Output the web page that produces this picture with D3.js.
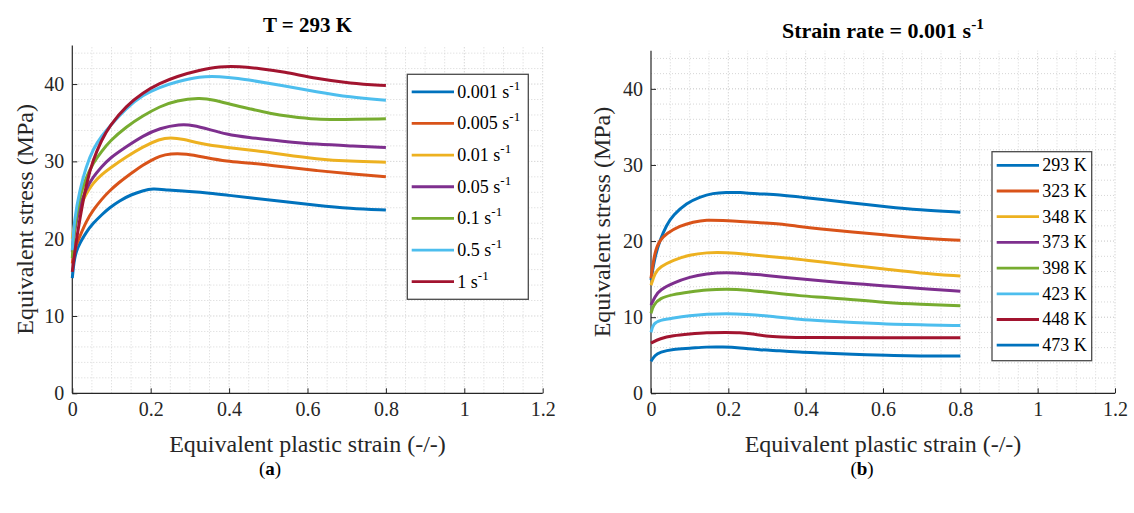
<!DOCTYPE html>
<html>
<head>
<meta charset="utf-8">
<script src="https://cdn.jsdelivr.net/npm/d3@7"></script>
<style>
  html, body { margin: 0; padding: 0; background: #fff; }
  svg { display: block; }
  svg text { font-family: 'Liberation Serif', 'Times New Roman', serif !important; }
</style>
</head>
<body>
<svg id="fig" width="1134" height="513"></svg>
<script>
// ---- data: equivalent plastic strain vs equivalent stress (MPa) ----
// Panel (a): T = 293 K, different strain rates
const rateLabels = ["0.001", "0.005", "0.01", "0.05", "0.1", "0.5", "1"];
const rate0001 = [[0,14.9],[0.004,17.0],[0.01,18.4],[0.02,19.5],[0.035,20.8],[0.053,22.0],[0.075,23.1],[0.095,24.0],[0.12,24.9],[0.15,25.7],[0.18,26.2],[0.205,26.5],[0.24,26.3],[0.3,26.1],[0.35,25.9],[0.4,25.6],[0.453,25.3],[0.538,24.8],[0.623,24.3],[0.708,23.9],[0.8,23.7]];
const rate0005 = [[0,16.8],[0.004,18.2],[0.01,19.2],[0.02,20.4],[0.035,22.2],[0.053,23.7],[0.075,25.1],[0.095,26.2],[0.12,27.3],[0.138,28.0],[0.16,28.8],[0.18,29.5],[0.2,30.1],[0.223,30.7],[0.25,31.0],[0.29,31.0],[0.34,30.5],[0.393,30.0],[0.453,29.8],[0.538,29.3],[0.623,28.8],[0.708,28.4],[0.8,28.0]];
const rate001 = [[0,20.0],[0.005,22.0],[0.019,24.1],[0.035,25.8],[0.053,27.2],[0.075,28.3],[0.095,29.1],[0.138,30.6],[0.18,31.9],[0.223,32.9],[0.25,33.1],[0.283,32.9],[0.325,32.3],[0.393,31.8],[0.453,31.5],[0.538,30.9],[0.623,30.3],[0.708,30.0],[0.8,29.9]];
const rate005 = [[0,18.3],[0.005,21.0],[0.019,24.3],[0.035,26.4],[0.053,28.0],[0.075,29.3],[0.095,30.4],[0.138,31.9],[0.18,33.3],[0.223,34.3],[0.274,34.8],[0.308,34.7],[0.351,34.1],[0.393,33.5],[0.444,33.1],[0.538,32.6],[0.623,32.2],[0.708,32.0],[0.8,31.8]];
const rate01 = [[0,17.5],[0.005,21.5],[0.019,25.5],[0.035,27.9],[0.053,29.8],[0.075,31.3],[0.095,32.6],[0.138,34.5],[0.18,35.9],[0.223,37.1],[0.266,37.9],[0.325,38.2],[0.359,38.0],[0.41,37.3],[0.453,36.8],[0.504,36.2],[0.555,35.8],[0.623,35.4],[0.69,35.4],[0.8,35.5]];
const rate05 = [[0,18.5],[0.005,22.5],[0.019,26.3],[0.035,29.3],[0.053,31.6],[0.075,33.3],[0.095,34.5],[0.138,36.9],[0.18,38.6],[0.223,39.6],[0.266,40.3],[0.325,41.0],[0.376,41.0],[0.427,40.7],[0.453,40.5],[0.538,39.8],[0.623,39.0],[0.708,38.3],[0.8,37.9]];
const rate1 = [[0,15.7],[0.008,19.0],[0.019,22.5],[0.036,27.2],[0.053,30.2],[0.075,32.8],[0.095,34.6],[0.138,37.2],[0.18,38.9],[0.223,40.1],[0.266,41.0],[0.325,41.8],[0.376,42.3],[0.427,42.3],[0.478,42.0],[0.538,41.6],[0.623,40.7],[0.708,40.1],[0.8,39.8]];

// Panel (b): strain rate = 0.001 1/s, different temperatures
const tempLabels = ["293 K", "323 K", "348 K", "373 K", "398 K", "423 K", "448 K", "473 K"];
const temp293 = [[0,14.9],[0.01,18.0],[0.023,20.1],[0.04,22.1],[0.057,23.4],[0.092,25.0],[0.126,25.8],[0.16,26.3],[0.195,26.4],[0.229,26.4],[0.272,26.2],[0.332,26.1],[0.4,25.7],[0.435,25.5],[0.52,25.0],[0.61,24.5],[0.693,24.1],[0.8,23.8]];
const temp323 = [[0,15.1],[0.01,18.8],[0.023,20.1],[0.04,21.0],[0.075,22.0],[0.109,22.5],[0.143,22.8],[0.186,22.7],[0.229,22.6],[0.281,22.4],[0.332,22.3],[0.384,21.9],[0.435,21.6],[0.52,21.2],[0.61,20.8],[0.693,20.4],[0.8,20.1]];
const temp348 = [[0,14.2],[0.01,15.8],[0.023,16.6],[0.057,17.5],[0.1,18.2],[0.143,18.5],[0.195,18.5],[0.246,18.3],[0.298,18.0],[0.349,17.8],[0.4,17.5],[0.435,17.3],[0.52,16.8],[0.61,16.3],[0.693,15.8],[0.8,15.4]];
const temp373 = [[0,11.6],[0.01,12.7],[0.023,13.6],[0.057,14.5],[0.1,15.3],[0.143,15.7],[0.195,15.9],[0.246,15.7],[0.298,15.5],[0.349,15.2],[0.4,15.0],[0.52,14.4],[0.61,14.1],[0.693,13.8],[0.8,13.4]];
const temp398 = [[0,10.5],[0.006,11.6],[0.023,12.5],[0.057,13.0],[0.1,13.3],[0.143,13.6],[0.195,13.7],[0.246,13.6],[0.315,13.2],[0.384,12.8],[0.452,12.6],[0.52,12.3],[0.61,11.9],[0.693,11.7],[0.8,11.5]];
const temp423 = [[0,8.0],[0.006,9.2],[0.023,9.6],[0.057,9.9],[0.1,10.2],[0.143,10.4],[0.195,10.5],[0.246,10.4],[0.315,10.1],[0.384,9.7],[0.452,9.5],[0.52,9.3],[0.61,9.1],[0.693,9.0],[0.8,8.9]];
const temp448 = [[0,6.6],[0.023,7.2],[0.057,7.6],[0.1,7.8],[0.143,8.0],[0.195,8.0],[0.229,8.0],[0.263,7.8],[0.298,7.5],[0.332,7.4],[0.4,7.3],[0.6,7.3],[0.8,7.3]];
const temp473 = [[0,4.2],[0.01,5.0],[0.023,5.4],[0.057,5.8],[0.1,5.9],[0.143,6.1],[0.186,6.1],[0.229,6.0],[0.281,5.7],[0.332,5.6],[0.384,5.4],[0.435,5.3],[0.52,5.1],[0.61,5.0],[0.693,4.9],[0.8,4.9]];

// axis ticks
const strainTicks = [0, 0.2, 0.4, 0.6, 0.8, 1, 1.2];
const stressTicks = [0, 10, 20, 30, 40];

// MATLAB-style line colours
const palette = ["#0072BD", "#D95319", "#EDB120", "#7E2F8E", "#77AC30", "#4DBEEE", "#A2142F", "#0072BD"];

const svg = d3.select("#fig");
const SERIF = "'Liberation Serif', 'Times New Roman', serif";

function drawPanel(p) {
  const x = d3.scaleLinear().domain([0, 1.2]).range([p.left, p.right]);
  const y = d3.scaleLinear().domain([0, 45]).range([p.bottom, p.top]);
  const g = svg.append("g").attr("font-family", SERIF);

  // dotted grid (minor every 0.05 / 2 MPa, major slightly darker)
  const gx = d3.range(1, 25).map(i => i * 0.05);
  const gy = d3.range(1, 23).map(i => i * 2);
  g.append("g").selectAll("line").data(gx).join("line")
    .attr("x1", d => x(d)).attr("x2", d => x(d))
    .attr("y1", y(0)).attr("y2", y(45))
    .attr("stroke", d => (Math.abs(d * 5 - Math.round(d * 5)) < 1e-6) ? "#c4c4c4" : "#d6d6d6")
    .attr("stroke-width", 1).attr("stroke-dasharray", "1,2");
  g.append("g").selectAll("line").data(gy).join("line")
    .attr("x1", x(0)).attr("x2", x(1.2))
    .attr("y1", d => y(d)).attr("y2", d => y(d))
    .attr("stroke", d => d % 10 === 0 ? "#c4c4c4" : "#d6d6d6")
    .attr("stroke-width", 1).attr("stroke-dasharray", "1,2");

  // axes
  const xAxis = d3.axisBottom(x).tickValues(strainTicks).tickSize(-5).tickPadding(9)
    .tickFormat(d => d3.format("~g")(d));
  const yAxis = d3.axisLeft(y).tickValues(stressTicks).tickSize(-5).tickPadding(8);
  const ax = g.append("g").attr("transform", `translate(0,${y(0)})`).call(xAxis);
  const ay = g.append("g").attr("transform", `translate(${x(0)},0)`).call(yAxis);
  [ax, ay].forEach(a => {
    a.attr("font-family", SERIF).attr("font-size", 20);
    a.select(".domain").attr("stroke", "#262626").attr("stroke-width", 1.2)
      .attr("d", a === ax ? `M${x(0)},0H${x(1.2)}` : `M0,${y(0)}V${y(45)}`);
    a.selectAll(".tick line").attr("stroke", "#262626");
    a.selectAll(".tick text").attr("fill", "#262626");
  });

  // axis titles
  g.append("text").attr("x", (p.left + p.right) / 2).attr("y", p.xLabelY)
    .attr("text-anchor", "middle").attr("fill", "#262626").attr("font-size", 24)
    .text("Equivalent plastic strain (-/-)");
  g.append("text")
    .attr("transform", `translate(${p.yLabelX},${(p.top + p.bottom) / 2}) rotate(-90)`)
    .attr("text-anchor", "middle").attr("fill", "#262626").attr("font-size", 24)
    .text("Equivalent stress (MPa)");

  // panel title
  const t = g.append("text").attr("x", (p.left + p.right) / 2).attr("y", p.titleY)
    .attr("text-anchor", "middle").attr("fill", "#000").attr("font-weight", "bold")
    .attr("font-size", p.titleSize);
  t.append("tspan").text(p.title);
  if (p.titleSup) t.append("tspan").attr("dy", -9).attr("font-size", p.titleSize * 0.7).text(p.titleSup);

  // curves
  const line = d3.line().x(d => x(d[0])).y(d => y(d[1])).curve(d3.curveBasis);
  g.append("g").selectAll("path").data(p.series).join("path")
    .attr("d", d => line(d.values))
    .attr("fill", "none").attr("stroke", d => d.color)
    .attr("stroke-width", 3).attr("stroke-linejoin", "round").attr("stroke-linecap", "butt");

  // legend
  const L = p.legend;
  const lg = g.append("g");
  lg.append("rect").attr("x", L.x0).attr("y", L.y0).attr("width", L.x1 - L.x0).attr("height", L.y1 - L.y0)
    .attr("fill", "#fff").attr("stroke", "#4a4a4a").attr("stroke-width", 1.3);
  const rows = lg.selectAll("g.row").data(p.series).join("g").attr("class", "row")
    .attr("transform", (d, i) => `translate(0,${L.firstRow + i * L.rowStep})`);
  rows.append("line").attr("x1", L.lineX0).attr("x2", L.lineX1).attr("y1", 0).attr("y2", 0)
    .attr("stroke", d => d.color).attr("stroke-width", 2.8);
  const lt = rows.append("text").attr("x", L.textX).attr("y", 0).attr("dy", "0.33em")
    .attr("fill", "#000").attr("font-size", 18);
  lt.append("tspan").text(d => d.label);
  lt.filter(d => d.sup).append("tspan").attr("dy", -8).attr("font-size", 13).text(d => d.sup);
}

const rateSeries = [rate0001, rate0005, rate001, rate005, rate01, rate05, rate1].map((v, i) => ({
  values: v, color: palette[i], label: rateLabels[i] + " s", sup: "-1"
}));
const tempSeries = [temp293, temp323, temp348, temp373, temp398, temp423, temp448, temp473].map((v, i) => ({
  values: v, color: palette[i], label: tempLabels[i], sup: null
}));

drawPanel({
  left: 72.3, right: 542.7, top: 45.4, bottom: 393.3,
  title: "T = 293 K", titleSup: null, titleY: 31.5, titleSize: 21,
  xLabelY: 452, yLabelX: 33,
  series: rateSeries,
  legend: { x0: 407.3, y0: 74.3, x1: 528.3, y1: 299.3, firstRow: 91.8, rowStep: 31.65,
            lineX0: 411.7, lineX1: 454, textX: 457.3 }
});

drawPanel({
  left: 651, right: 1115, top: 50.8, bottom: 393.3,
  title: "Strain rate = 0.001 s", titleSup: "-1", titleY: 38, titleSize: 22,
  xLabelY: 452, yLabelX: 610,
  series: tempSeries,
  legend: { x0: 992, y0: 151.7, x1: 1091.7, y1: 360.7, firstRow: 165.3, rowStep: 25.7,
            lineX0: 996.7, lineX1: 1039, textX: 1042.3 }
});

// sub-figure captions
[["a", 270], ["b", 862]].forEach(([c, cx]) => {
  const t = svg.append("text").attr("x", cx).attr("y", 475).attr("text-anchor", "middle")
    .attr("font-family", SERIF).attr("fill", "#000").attr("font-size", 19);
  t.append("tspan").text("(");
  t.append("tspan").attr("font-weight", "bold").text(c);
  t.append("tspan").text(")");
});
</script>
</body>
</html>
